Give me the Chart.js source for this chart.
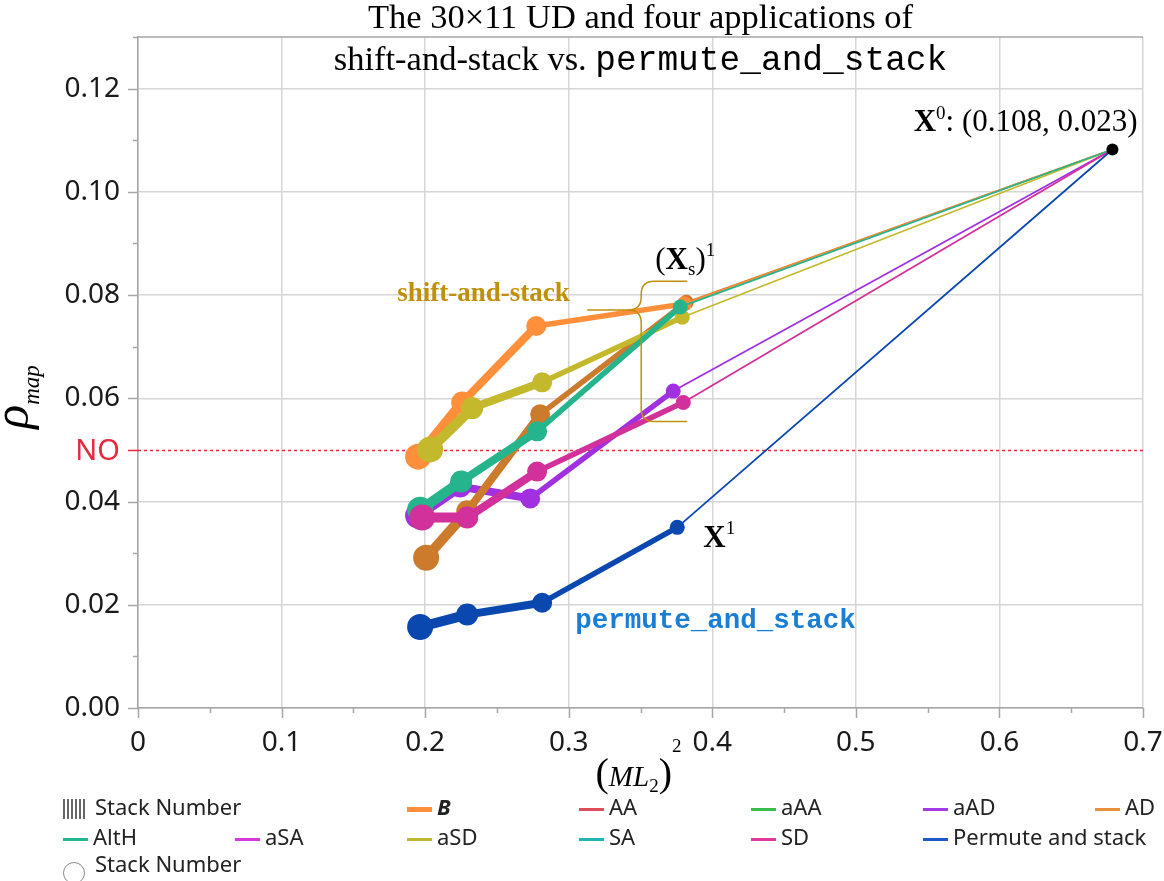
<!DOCTYPE html>
<html>
<head>
<meta charset="utf-8">
<script src="https://cdn.jsdelivr.net/npm/chart.js@4.4.0/dist/chart.umd.min.js"></script>
<style>
  body { margin: 0; background: #fff; overflow: hidden; }
  #wrap { position: relative; width: 1164px; height: 881px; }
  #legend {
    position: absolute; left: 63px; top: 791px;
    font-family: "Noto Sans", sans-serif; font-size: 22px; color: #222;
    display: grid; grid-template-columns: repeat(7, 172px); grid-auto-rows: 30px;
    align-items: center; white-space: nowrap;
  }
  .sw { display: inline-block; width: 25px; height: 3px; vertical-align: middle; margin-right: 5px; }
  .bars { display: inline-block; width: 22px; height: 20px; vertical-align: middle; margin-right: 10px;
    background: repeating-linear-gradient(90deg, #666 0 2px, #fff 2px 4px); }
  .ring { display: inline-block; width: 20px; height: 20px; border: 1.5px solid #888; border-radius: 50%;
    vertical-align: -12px; margin-right: 10px; }
</style>
</head>
<body>
<div id="wrap">
  <canvas id="chart" width="1164" height="881"></canvas>
  <div id="legend"></div>
</div>
<script>
// ---- data ----
const xTicks = [0, 0.1, 0.2, 0.3, 0.4, 0.5, 0.6, 0.7];
const yTicks = [0, 0.02, 0.04, 0.06, 0.08, 0.10, 0.12];
const noLevel = 0.05;

// common end point X0
const x0 = 0.6787, y0 = 0.1082;

// stack 4 -> 1, each series then runs to X0
const xB = [0.1951, 0.2258, 0.2774, 0.3805];
const yB = [0.0487, 0.0592, 0.0740, 0.0783];
const xAD = [0.2007, 0.2293, 0.2801, 0.3819];
const yAD = [0.0291, 0.0381, 0.0569, 0.0786];
const xAltH = [0.1965, 0.2251, 0.2780, 0.3777];
const yAltH = [0.0384, 0.0439, 0.0536, 0.0777];
const xaSD = [0.2035, 0.2328, 0.2815, 0.3791];
const yaSD = [0.0501, 0.0581, 0.0631, 0.0757];
const xaAD = [0.1951, 0.2244, 0.2732, 0.3728];
const yaAD = [0.0373, 0.0429, 0.0406, 0.0614];
const xSD = [0.1979, 0.2293, 0.2780, 0.3798];
const ySD = [0.0369, 0.0369, 0.0458, 0.0592];
const xPerm = [0.1965, 0.2293, 0.2815, 0.3756];
const yPerm = [0.0157, 0.0181, 0.0204, 0.0350];

const legendNames = ['B', 'AA', 'aAA', 'aAD', 'AD', 'AltH', 'aSA', 'aSD', 'SA', 'SD', 'Permute and stack'];
const legendColors = ['#ff8f3a', '#e24b5b', '#3cbc4c', '#a63ae6', '#e8903a', '#20b890', '#d83ad8', '#c0b830', '#22b4b8', '#e0389a', '#1f56c8'];
const legendCells = [[1, 3], [1, 4], [1, 5], [1, 6], [1, 7], [2, 1], [2, 2], [2, 3], [2, 4], [2, 5], [2, 6]];

// ---- styles ----
const radii = [13, 11, 10, 7.5, 0];
const widths = [10, 8, 5.5, 1.8];
const SERIF = '"Liberation Serif", "Times New Roman", serif';
const MONO = '"Liberation Mono", "Courier New", monospace';
const SANS = '"Noto Sans", sans-serif';

function series(label, xs, ys, color) {
    return {
        label: label,
        data: xs.map((x, i) => ({ x: x, y: ys[i] })).concat([{ x: x0, y: y0 }]),
        showLine: true,
        borderColor: color,
        backgroundColor: color,
        pointBackgroundColor: color,
        pointBorderWidth: 0,
        pointRadius: ctx => radii[ctx.dataIndex],
        pointHoverRadius: ctx => radii[ctx.dataIndex],
        borderCapStyle: 'round',
        borderJoinStyle: 'round',
        segment: { borderWidth: ctx => widths[ctx.p0DataIndex] }
    };
}

// first dataset ends up on top
const datasets = [
    { label: 'X0', data: [{ x: x0, y: y0 }], pointRadius: 6, pointBackgroundColor: '#000', pointBorderWidth: 0, showLine: false },
    series('Permute and stack', xPerm, yPerm, '#0a48b0'),
    series('SD', xSD, ySD, '#d2309a'),
    series('AltH', xAltH, yAltH, '#26b48c'),
    series('aSD', xaSD, yaSD, '#c4b92c'),
    series('B', xB, yB, '#ff8f3a'),
    series('AD', xAD, yAD, '#cc7a2c'),
    series('aAD', xaAD, yaAD, '#a030e0')
];

// draw text made of several runs (fonts / offsets)
function drawRuns(ctx, parts, x, y, align) {
    let w = 0;
    parts.forEach(p => { ctx.font = p.font; p.w = ctx.measureText(p.t).width; w += p.w; });
    let cx = align === 'center' ? x - w / 2 : align === 'right' ? x - w : x;
    ctx.textAlign = 'left';
    ctx.textBaseline = 'alphabetic';
    parts.forEach(p => {
        ctx.font = p.font;
        ctx.fillStyle = p.color || '#000';
        ctx.fillText(p.t, cx, y + (p.dy || 0));
        cx += p.w;
    });
}

const decor = {
    id: 'decor',
    beforeDatasetsDraw(chart) {
        const { ctx, chartArea: a, scales: { x, y } } = chart;
        ctx.save();
        ctx.strokeStyle = '#a6a6a6';
        ctx.lineWidth = 1.5;
        ctx.beginPath();
        ctx.moveTo(a.left, a.top); ctx.lineTo(a.right, a.top);
        // y tick marks (major every 0.02, minor every 0.01)
        for (let i = 0; i <= 13; i++) {
            if (i === 5) continue;
            const p = Math.round(y.getPixelForValue(i / 100)) + 0.5;
            ctx.moveTo(a.left - (i % 2 === 0 ? 10 : 5), p); ctx.lineTo(a.left, p);
        }
        // x tick marks (major every 0.1, minor every 0.05)
        for (let i = 0; i <= 14; i++) {
            const p = Math.round(x.getPixelForValue(i * 0.05)) + 0.5;
            ctx.moveTo(p, a.bottom); ctx.lineTo(p, a.bottom + (i % 2 === 0 ? 10 : 5));
        }
        ctx.stroke();

        // NO level
        const ny = Math.round(y.getPixelForValue(noLevel)) + 0.5;
        ctx.strokeStyle = '#e8283c';
        ctx.beginPath();
        ctx.moveTo(a.left - 10, ny); ctx.lineTo(a.left, ny);
        ctx.stroke();
        ctx.setLineDash([3, 3]);
        ctx.beginPath();
        ctx.moveTo(a.left, ny); ctx.lineTo(a.right, ny);
        ctx.stroke();
        ctx.setLineDash([]);
        ctx.font = '29px ' + SANS;
        ctx.fillStyle = '#e8283c';
        ctx.textAlign = 'right';
        ctx.textBaseline = 'middle';
        ctx.fillText('NO', a.left - 18, ny + 1);
        ctx.restore();
    },
    afterDatasetsDraw(chart) {
        const { ctx, scales: { x, y } } = chart;
        const X = v => x.getPixelForValue(v), Y = v => y.getPixelForValue(v);
        ctx.save();
        const big = '31px ' + SERIF, bold = 'bold 31px ' + SERIF, sm = '19px ' + SERIF;

        drawRuns(ctx, [
            { t: 'X', font: bold }, { t: '0', font: sm, dy: -12 }, { t: ': (0.108, 0.023)', font: big }
        ], X(0.6962), Y(0.1118), 'right');

        drawRuns(ctx, [
            { t: '(', font: big }, { t: 'X', font: bold }, { t: 's', font: sm, dy: 6 },
            { t: ')', font: big }, { t: '1', font: sm, dy: -13 }
        ], X(0.3603), Y(0.0850), 'left');

        drawRuns(ctx, [{ t: 'shift-and-stack', font: 'bold 27px ' + SERIF, color: '#c0900a' }],
            X(0.1805), Y(0.0788), 'left');

        drawRuns(ctx, [{ t: 'X', font: bold }, { t: '1', font: sm, dy: -13 }], X(0.3937), Y(0.0311), 'left');

        drawRuns(ctx, [{ t: 'permute_and_stack', font: 'bold 27.5px ' + MONO, color: '#1a7fd4' }],
            X(0.3045), Y(0.0155), 'left');

        // brace grouping the (Xs)^1 points
        const tip = X(0.3129), sp = X(0.3505), arm = X(0.3826);
        const yt = Y(0.0827), ym = Y(0.0771), yb = Y(0.0555), r = 13;
        ctx.strokeStyle = '#c0900a';
        ctx.lineWidth = 1.5;
        ctx.beginPath();
        ctx.moveTo(arm, yt); ctx.lineTo(sp + r, yt);
        ctx.quadraticCurveTo(sp, yt, sp, yt + r);
        ctx.lineTo(sp, ym - r);
        ctx.quadraticCurveTo(sp, ym, sp - r, ym);
        ctx.lineTo(tip, ym);
        ctx.moveTo(sp - r, ym);
        ctx.quadraticCurveTo(sp, ym, sp, ym + r);
        ctx.lineTo(sp, yb - r);
        ctx.quadraticCurveTo(sp, yb, sp + r, yb);
        ctx.lineTo(arm, yb);
        ctx.stroke();
        ctx.restore();
    },
    afterDraw(chart) {
        const { ctx, chartArea: a } = chart;
        const cx = (a.left + a.right) / 2;
        ctx.save();
        const tf = '34.5px ' + SERIF;
        drawRuns(ctx, [{ t: 'The 30\u00d711 UD and four applications of', font: tf }], cx, 28, 'center');
        drawRuns(ctx, [
            { t: 'shift-and-stack vs. ', font: tf }, { t: 'permute_and_stack', font: '34.5px ' + MONO }
        ], cx, 70, 'center');

        // x axis title (ML2)^2
        drawRuns(ctx, [
            { t: '(', font: '40px ' + SERIF }, { t: 'ML', font: 'italic 29px ' + SERIF },
            { t: '2', font: '19px ' + SERIF, dy: 6 }, { t: ')', font: '40px ' + SERIF },
            { t: '2', font: '19px ' + SERIF, dy: -34 }
        ], cx - 2, 786, 'center');

        // y axis title rho_map
        ctx.translate(28, 397);
        ctx.rotate(-Math.PI / 2);
        drawRuns(ctx, [
            { t: '\u03c1', font: 'italic 50px ' + SERIF }, { t: 'map', font: 'italic 23px ' + SERIF, dy: 11 }
        ], 0, 0, 'center');
        ctx.restore();
    }
};

new Chart(document.getElementById('chart').getContext('2d'), {
    type: 'scatter',
    data: { datasets: datasets },
    options: {
        responsive: false,
        animation: false,
        layout: { padding: { left: 0, right: 21, top: 37, bottom: 0 } },
        plugins: { legend: { display: false }, tooltip: { enabled: false } },
        scales: {
            x: {
                type: 'linear', min: 0, max: 0.7,
                afterBuildTicks: axis => { axis.ticks = xTicks.map(v => ({ value: v })); },
                afterFit: axis => { axis.height = 173; axis.paddingLeft = 0; axis.paddingRight = 0; },
                grid: { color: '#d6d6d6', lineWidth: 1.5, drawTicks: false },
                border: { color: '#a6a6a6', width: 1.5 },
                ticks: {
                    padding: 18, color: '#1a1a1a', font: { family: 'Noto Sans', size: 28 },
                    maxRotation: 0,
                    callback: v => v === 0 ? '0' : v.toFixed(1)
                }
            },
            y: {
                type: 'linear', min: 0, max: 0.13,
                afterBuildTicks: axis => { axis.ticks = yTicks.map(v => ({ value: v })); },
                afterFit: axis => { axis.width = 138; axis.paddingTop = 0; axis.paddingBottom = 0; },
                grid: { color: '#d6d6d6', lineWidth: 1.5, drawTicks: false },
                border: { color: '#a6a6a6', width: 1.5 },
                ticks: {
                    padding: 18, color: '#1a1a1a', font: { family: 'Noto Sans', size: 28 },
                    callback: v => v.toFixed(2)
                }
            }
        }
    },
    plugins: [decor]
});

// ---- legend ----
const leg = document.getElementById('legend');
function cell(row, col, html, span) {
    const d = document.createElement('div');
    d.style.gridRow = row;
    d.style.gridColumn = span ? col + ' / span ' + span : col;
    d.innerHTML = html;
    leg.appendChild(d);
}
cell(1, 1, '<span class="bars"></span>Stack Number', 2);
legendNames.forEach((name, i) => {
    const label = name === 'B' ? '<b><i>B</i></b>' : name;
    const h = name === 'B' ? 'height:5px;' : '';
    cell(legendCells[i][0], legendCells[i][1],
        '<span class="sw" style="background:' + legendColors[i] + ';' + h + '"></span>' + label);
});
cell(3, 1, '<span class="ring"></span>Stack Number', 2);
</script>
</body>
</html>
